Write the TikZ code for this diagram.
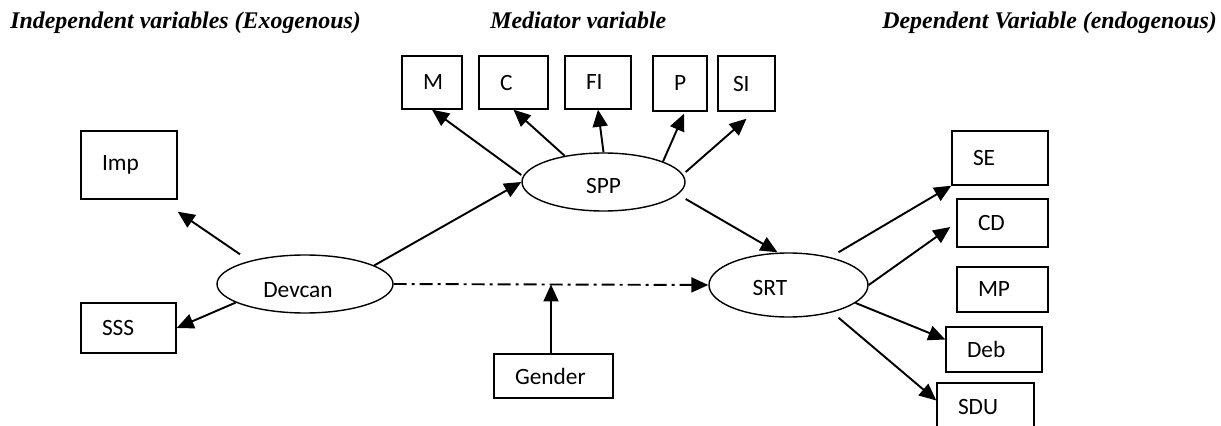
\documentclass[tikz,border=0pt]{standalone}
\usepackage{fontspec}
\setmainfont{Carlito}
\newfontfamily\headfont{Liberation Serif}
\usetikzlibrary{calc,arrows.meta,positioning,shapes}

\begin{document}
\begin{tikzpicture}[font=\fontsize{13.3}{15}\selectfont,
      box/.style={draw, line width=0.8pt, inner xsep=0.42cm, inner ysep=0pt,
                  align=left, text width=#1},
      ell/.style={draw, ellipse, line width=0.8pt, inner sep=0pt},
      head/.style={anchor=base west, inner sep=0pt,
                   font=\headfont\bfseries\itshape\fontsize{13.6}{15}\selectfont},
      arr/.style={-{Triangle[length=0.34cm, width=0.3cm]}, line width=1.1pt},
      medline/.style={line width=1.1pt, dash pattern=on 0.26cm off 0.1cm on 0.06cm off 0.1cm}]
    \useasboundingbox (0, 0) rectangle (24.42, -8.52);
    % column headings
    \node[head] (hdIndep) at (0.20, -0.58) {Independent variables (Exogenous)};
    \node[head] (hdMed) at (9.80, -0.58) {Mediator variable};
    \node[head] (hdDep) at (17.64, -0.58) {Dependent Variable (endogenous)};
    % latent variables
    \node[ell, minimum width=3.52cm, minimum height=1.16cm,
          label={[xshift=-0.14cm, yshift=-0.12cm]center:Devcan}] (devcan) at (6.10, -5.68) {};
    \node[ell, minimum width=3.26cm, minimum height=1.16cm,
          label={[yshift=-0.08cm]center:SPP}] (spp) at (12.07, -3.64) {};
    \node[ell, minimum width=3.18cm, minimum height=1.28cm,
          label={[xshift=-0.37cm, yshift=-0.06cm]center:SRT}] (srt) at (15.77, -5.70) {};
    % indicators
    \node[box=1.08cm, minimum height=1.36cm] (imp) at (2.58, -3.30) {Imp\\[0.12cm]};
    \node[box=1.06cm, minimum height=1.00cm] (sss) at (2.57, -6.56) {SSS};
    \node[box=0.36cm, minimum height=1.06cm] (m) at (8.64, -1.65) {M};
    \node[box=0.54cm, minimum height=1.06cm] (c) at (10.27, -1.65) {C};
    \node[box=0.48cm, minimum height=1.06cm] (fi) at (11.96, -1.65) {FI};
    \node[box=0.24cm, minimum height=1.10cm] (p) at (13.60, -1.67) {P};
    \node[box=0.54cm, inner xsep=0.30cm, minimum height=1.10cm] (si) at (14.93, -1.67) {SI};
    \node[box=1.54cm, minimum height=0.88cm] (gender) at (11.07, -7.52) {Gender};
    \node[box=1.08cm, minimum height=1.08cm] (se) at (20.00, -3.16) {SE};
    \node[box=0.98cm, minimum height=0.96cm] (cd) at (20.05, -4.46) {CD};
    \node[box=0.98cm, minimum height=0.90cm] (mp) at (20.05, -5.79) {MP};
    \node[box=1.08cm, minimum height=0.90cm] (deb) at (19.88, -6.99) {Deb};
    \node[box=1.10cm, minimum height=0.98cm] (sdu) at (19.71, -8.15) {SDU};
    \coordinate (gmeet) at ($(devcan.east)!0.5!(srt.west)$);
    % paths
    \draw[arr] ([xshift=-1.3cm]devcan.north) -- ([yshift=-0.24cm]imp.south east);
    \draw[arr] (devcan.195) -- (sss.east);
    \draw[arr] (devcan.15) -- (spp.west);
    \draw[arr, medline] (devcan.east) -- (srt.west);
    \draw[arr] (gmeet |- gender.north) -- (gmeet);
    \draw[arr] ([yshift=0.14cm]spp.west) -- (m.south);
    \draw[arr] (spp.146) -- (c.south);
    \draw[arr] (spp.north) -- (fi.south);
    \draw[arr] (spp.19) -- ([xshift=0.08cm, yshift=-0.04cm]p.south);
    \draw[arr] ([yshift=0.2cm]spp.east) -- ([yshift=-0.14cm]si.south);
    \draw[arr] ([yshift=-0.34cm]spp.east) -- ([xshift=-0.22cm]srt.north);
    \draw[arr] ([xshift=1cm]srt.north) -- (se.south west);
    \draw[arr] (srt.east) -- ([xshift=-0.12cm, yshift=-0.08cm]cd.west);
    \draw[arr] (srt.-15) -- ([yshift=0.2cm]deb.west);
    \draw[arr] ([xshift=1cm]srt.south) -- ([yshift=0.14cm]sdu.west);
  \end{tikzpicture}
\end{document}
